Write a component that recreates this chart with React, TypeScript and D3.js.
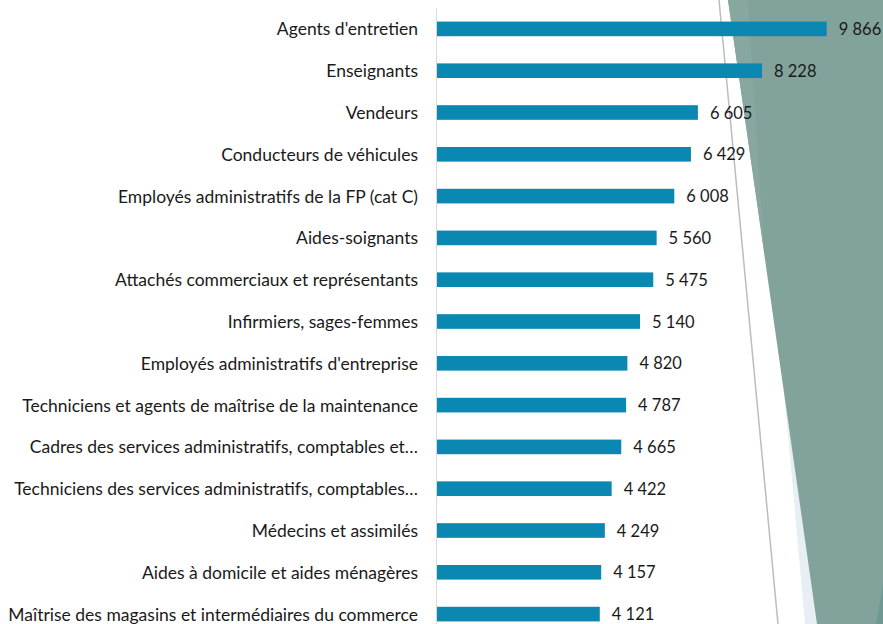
import React from 'react';
import * as d3 from 'd3';

const categories = [
  "Agents d'entretien",
  'Enseignants',
  'Vendeurs',
  'Conducteurs de véhicules',
  'Employés administratifs de la FP (cat C)',
  'Aides-soignants',
  'Attachés commerciaux et représentants',
  'Infirmiers, sages-femmes',
  "Employés administratifs d'entreprise",
  'Techniciens et agents de maîtrise de la maintenance',
  'Cadres des services administratifs, comptables et…',
  'Techniciens des services administratifs, comptables…',
  'Médecins et assimilés',
  'Aides à domicile et aides ménagères',
  'Maîtrise des magasins et intermédiaires du commerce',
];

const values = [9866, 8228, 6605, 6429, 6008, 5560, 5475, 5140, 4820, 4787, 4665, 4422, 4249, 4157, 4121];

const width = 883;
const height = 624;
const barColor = '#0a88b1';
const font = 'Lato, "Open Sans", sans-serif';

const fmt = d3.formatLocale({ decimal: ',', thousands: ' ', grouping: [3], currency: ['', ' €'] }).format(',d');

export default function App() {
  const x = d3.scaleLinear().domain([0, 10000]).range([437, 832]);
  const y = d3.scaleBand<string>().domain(categories).range([8, 635]).paddingInner(0.65).paddingOuter(0.325);

  // decorative background shapes on the right
  const poly = (pts: [number, number][]) => (d3.line()(pts) ?? '') + 'Z';
  const lightBlue = poly([[749, 0], [883, 0], [883, 624], [805, 624]]);
  const green = poly([[728, 0], [883, 0], [883, 624], [817, 624]]);
  const greenLight = poly([[728, 0], [748, 0], [764, 250]]);
  const corner = poly([[883, 585], [883, 624], [876, 624]]);

  return (
    <svg width={width} height={height} style={{ position: 'absolute', left: 0, top: 0, background: '#fff' }}>
      <path d={lightBlue} fill="#e7eef4" />
      <path d={green} fill="#82a39c" />
      <path d={greenLight} fill="#87a7a0" />
      <path d={corner} fill="#6e9891" />
      <line x1={719} y1={0} x2={778} y2={624} stroke="#bdbdbd" strokeWidth={1.5} />

      <line x1={436.5} y1={8} x2={436.5} y2={624} stroke="#d9d9d9" strokeWidth={1} />

      {categories.map((c, i) => {
        const yc = (y(c) ?? 0) + y.bandwidth() / 2;
        return (
          <g key={c}>
            <rect x={x(0)} y={y(c)} width={x(values[i]) - x(0)} height={y.bandwidth()} fill={barColor} />
            <text x={418} y={yc} textAnchor="end" dominantBaseline="central"
              fontFamily={font} fontSize={17.5} fill="#1a1a1a">{c}</text>
            <text x={x(values[i]) + 12} y={yc} dominantBaseline="central"
              fontFamily={font} fontSize={16.5} fill="#1a1a1a">{fmt(values[i])}</text>
          </g>
        );
      })}
    </svg>
  );
}
